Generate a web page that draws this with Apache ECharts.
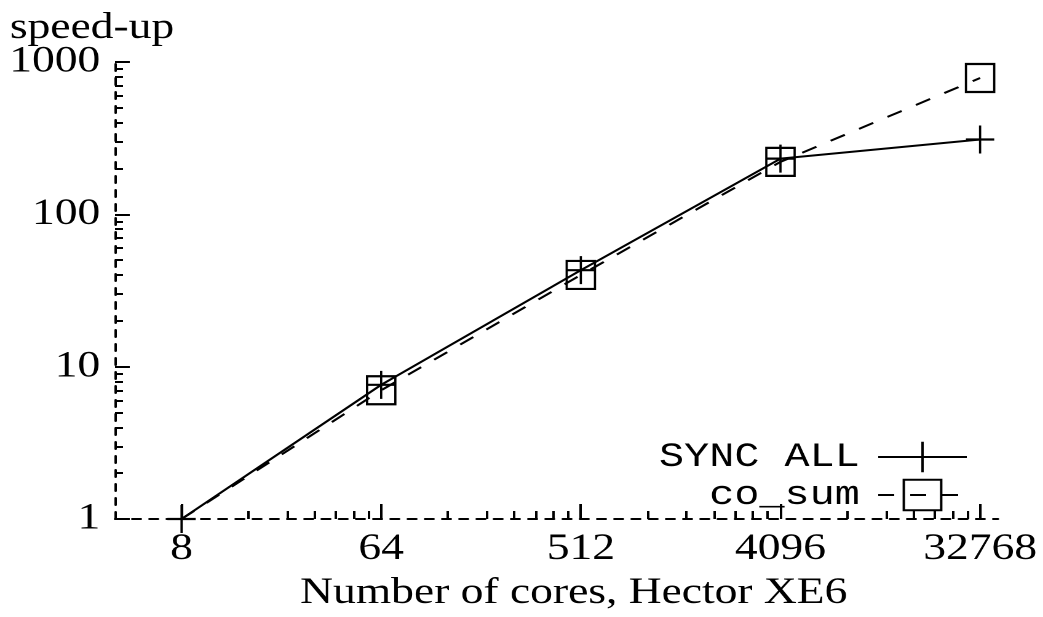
<!DOCTYPE html>
<html>
<head>
<meta charset="utf-8">
<title>speed-up</title>
<script src="https://cdn.jsdelivr.net/npm/echarts@6/dist/echarts.min.js"></script>
<style>
  html, body { margin: 0; padding: 0; background: #fff; overflow: hidden; }
  /* the reference is a gnuplot picture stretched sideways, so draw narrow and stretch */
  #chart { width: 848px; height: 617px; transform: scaleX(1.23); transform-origin: 0 0; }
</style>
</head>
<body>
<div id="chart"></div>
<script>
const cores = [8, 64, 512, 4096, 32768];
const syncAll = [1, 7.6, 43, 232, 310];
const coSum = [1, 7.0, 40, 221, 785];

const yMajor = [1, 10, 100, 1000];
const yMinor = [2, 3, 4, 5, 6, 7, 8, 9, 20, 30, 40, 50, 60, 70, 80, 90, 200, 300, 400, 500, 600, 700, 800, 900];
const xMinor = [16, 24, 32, 40, 48, 56, 128, 192, 256, 320, 384, 448,
  1024, 1536, 2048, 2560, 3072, 3584, 8192, 12288, 16384, 20480, 24576, 28672];

const serif = 'Liberation Serif';
const plus = 'path://M10 0V20M0 10H20';
const axisDash = { color: '#000', width: 2, type: [7, 7] };

const chart = echarts.init(document.getElementById('chart'), null, { devicePixelRatio: 2 });

const option = {
  backgroundColor: '#fff',
  animation: false,
  grid: { left: 93.5, right: 36.6, top: 62, bottom: 94 },
  graphic: [
    {
      type: 'text',
      left: 8,
      top: 10,
      style: { text: 'speed-up', font: '37px "Liberation Serif"', fill: '#000' },
    },
  ],
  legend: {
    orient: 'vertical',
    right: 61,
    top: 440,
    align: 'right',
    padding: 0,
    itemGap: 4,
    itemWidth: 72,
    itemHeight: 38,
    textStyle: { fontFamily: 'Liberation Mono', fontSize: 34, color: '#000', padding: [0, 10, 0, 0] },
    data: ['SYNC ALL', 'co_sum'],
  },
  xAxis: [
    {
      type: 'log',
      logBase: 8,
      min: 4,
      max: 39500,
      position: 'bottom',
      axisLine: { show: true, lineStyle: axisDash },
      axisTick: { show: true, inside: true, length: 15, customValues: cores, lineStyle: { color: '#000', width: 2 } },
      axisLabel: {
        customValues: cores,
        margin: 12,
        fontFamily: serif,
        fontSize: 37,
        color: '#000',
        formatter: (v) => String(Math.round(v)),
      },
      splitLine: { show: false },
      minorTick: { show: false },
      name: 'Number of cores, Hector XE6',
      nameLocation: 'middle',
      nameGap: 56,
      nameTextStyle: { fontFamily: serif, fontSize: 37, color: '#000', padding: [0, 0, 0, 28] },
    },
    {
      type: 'log',
      logBase: 8,
      min: 4,
      max: 39500,
      position: 'bottom',
      axisLine: { show: false },
      axisTick: { show: true, inside: true, length: 8, customValues: xMinor, lineStyle: { color: '#000', width: 2 } },
      axisLabel: { show: false },
      splitLine: { show: false },
    },
  ],
  yAxis: [
    {
      type: 'log',
      logBase: 10,
      min: 1,
      max: 1000,
      position: 'left',
      axisLine: { show: true, lineStyle: axisDash },
      axisTick: { show: true, inside: true, length: 12, customValues: yMajor, lineStyle: { color: '#000', width: 2 } },
      axisLabel: {
        customValues: yMajor,
        margin: 12,
        fontFamily: serif,
        fontSize: 37,
        color: '#000',
        formatter: (v) => String(Math.round(v)),
      },
      splitLine: { show: false },
    },
    {
      type: 'log',
      logBase: 10,
      min: 1,
      max: 1000,
      position: 'left',
      axisLine: { show: false },
      axisTick: { show: true, inside: true, length: 6.5, customValues: yMinor, lineStyle: { color: '#000', width: 2 } },
      axisLabel: { show: false },
      splitLine: { show: false },
    },
  ],
  series: [
    {
      name: 'SYNC ALL',
      type: 'line',
      data: cores.map((c, i) => [c, syncAll[i]]),
      symbol: plus,
      symbolSize: [23, 28],
      lineStyle: { color: '#000', width: 2, type: 'solid' },
      itemStyle: { color: 'rgba(0,0,0,0)', borderColor: '#000', borderWidth: 2 },
      z: 3,
    },
    {
      name: 'co_sum',
      type: 'line',
      data: cores.map((c, i) => (i === 0 ? { value: [c, coSum[i]], symbol: 'none' } : [c, coSum[i]])),
      symbol: 'rect',
      symbolSize: [23, 28],
      lineStyle: { color: '#000', width: 2, type: [13, 13] },
      itemStyle: { color: 'rgba(0,0,0,0)', borderColor: '#000', borderWidth: 2 },
      z: 2,
    },
  ],
};

chart.setOption(option);
</script>
</body>
</html>
